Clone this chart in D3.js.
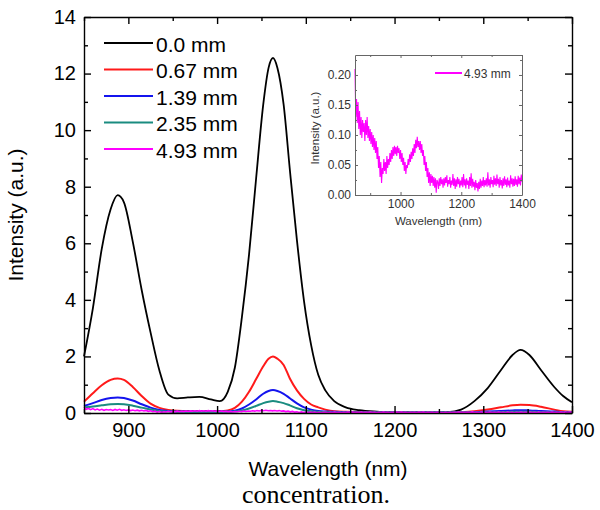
<!DOCTYPE html>
<html>
<head>
<meta charset="utf-8">
<script src="https://cdn.jsdelivr.net/npm/d3@7"></script>
<style>
  body { margin: 0; background: #fff; }
  svg { display: block; }
  .axis path, .axis line { stroke: #000; stroke-width: 1.4; }
  .axis text { font-family: "Liberation Sans", Arial, sans-serif; font-size: 20px; fill: #000; }
  .inset-axis path, .inset-axis line { stroke: #666; stroke-width: 1; }
  .inset-axis text { font-family: "Liberation Sans", Arial, sans-serif; font-size: 12px; fill: #333; }
</style>
</head>
<body>
<svg id="chart"></svg>
<script>
// wavelength grid (nm) for the smooth spectra
const wavelengths = [850, 860, 870, 880, 888, 895, 905, 915, 925, 935,
  945, 955, 967, 980, 993, 1003, 1012, 1020, 1028, 1036,
  1044, 1052, 1058, 1063, 1068, 1075, 1082, 1090, 1098, 1106,
  1114, 1122, 1132, 1145, 1160, 1180, 1200, 1230, 1260, 1275,
  1290, 1305, 1320, 1333, 1342, 1352, 1365, 1380, 1390, 1400];

const series00 = [2.0, 3.7, 5.8, 7.2, 7.7, 7.45, 6.05, 4.35, 2.85, 1.5,
  0.65, 0.52, 0.55, 0.57, 0.48, 0.42, 0.75, 1.6, 3.4, 5.6,
  8.3, 10.9, 12.2, 12.55, 12.2, 10.9, 8.6, 6.1, 3.95, 2.4,
  1.35, 0.8, 0.42, 0.2, 0.1, 0.05, 0.03, 0.02, 0.03, 0.12,
  0.42, 0.88, 1.52, 2.05, 2.23, 2.05, 1.52, 0.92, 0.6, 0.38];

const series067 = [0.4, 0.7, 0.98, 1.17, 1.22, 1.17, 0.92, 0.6, 0.33, 0.18,
  0.11, 0.08, 0.07, 0.07, 0.07, 0.07, 0.09, 0.18, 0.4, 0.75,
  1.2, 1.65, 1.92, 2.0, 1.92, 1.7, 1.22, 0.8, 0.5, 0.3,
  0.2, 0.12, 0.06, 0.04, 0.03, 0.02, 0.02, 0.02, 0.02, 0.03,
  0.06, 0.12, 0.2, 0.27, 0.29, 0.28, 0.22, 0.12, 0.06, 0.04];

const series139 = [0.25, 0.35, 0.46, 0.53, 0.55, 0.53, 0.44, 0.31, 0.19, 0.11,
  0.07, 0.05, 0.05, 0.05, 0.05, 0.05, 0.05, 0.08, 0.16, 0.3,
  0.48, 0.68, 0.78, 0.81, 0.78, 0.68, 0.52, 0.34, 0.2, 0.12,
  0.07, 0.05, 0.04, 0.03, 0.02, 0.02, 0.02, 0.02, 0.02, 0.02,
  0.03, 0.05, 0.07, 0.09, 0.1, 0.09, 0.07, 0.05, 0.03, 0.03];

const series235 = [0.2, 0.23, 0.27, 0.31, 0.32, 0.31, 0.26, 0.19, 0.12, 0.07,
  0.05, 0.04, 0.04, 0.04, 0.04, 0.04, 0.04, 0.05, 0.09, 0.16,
  0.25, 0.35, 0.4, 0.42, 0.4, 0.35, 0.27, 0.17, 0.1, 0.06,
  0.04, 0.03, 0.02, 0.02, 0.02, 0.02, 0.02, 0.02, 0.02, 0.02,
  0.02, 0.02, 0.03, 0.04, 0.04, 0.04, 0.03, 0.02, 0.02, 0.02];

// 4.93 mm spectrum, sampled every 2.5 nm from 850 nm (noisy)
const noisyStart = 850, noisyStep = 2.5;
const series493 = [
  0.21, 0.13, 0.16, 0.12, 0.155,
  0.11, 0.14, 0.10, 0.13, 0.095, 0.125, 0.105, 0.12,
  0.09, 0.125, 0.10, 0.13, 0.095, 0.115, 0.09, 0.11,
  0.085, 0.105, 0.08, 0.10, 0.075, 0.095, 0.07, 0.09,
  0.06, 0.08, 0.045, 0.065, 0.03, 0.055, 0.02, 0.045,
  0.035, 0.06, 0.04, 0.055, 0.035, 0.065, 0.045, 0.06,
  0.05, 0.07, 0.055, 0.075, 0.06, 0.08, 0.065, 0.082,
  0.068, 0.08, 0.065, 0.082, 0.07, 0.078, 0.06, 0.075,
  0.055, 0.07, 0.05, 0.062, 0.04, 0.055, 0.035, 0.05,
  0.045, 0.06, 0.05, 0.068, 0.055, 0.072, 0.06, 0.078,
  0.065, 0.085, 0.07, 0.092, 0.078, 0.097, 0.08, 0.09,
  0.075, 0.09, 0.07, 0.085, 0.065, 0.075, 0.05, 0.065,
  0.04, 0.055, 0.03, 0.045, 0.02, 0.038, 0.015, 0.035,
  0.02, 0.032, 0.015, 0.03, 0.012, 0.028, 0.004, 0.025,
  0.022, 0.01, 0.028, 0.015, 0.03, 0.018, 0.026, 0.012,
  0.028, 0.016, 0.03, 0.02, 0.033, 0.014, 0.025, 0.018,
  0.03, 0.012, 0.024, 0.017, 0.035, 0.015, 0.028, 0.01,
  0.026, 0.014, 0.03, 0.018, 0.027, 0.012, 0.024, 0.016,
  0.03, 0.013, 0.035, 0.016, 0.026, 0.011, 0.028, 0.017,
  0.024, 0.01, 0.03, 0.015, 0.036, 0.012, 0.027, 0.014,
  0.022, 0.008, 0.025, 0.012, 0.02, 0.006, 0.022, 0.01,
  0.027, 0.012, 0.024, 0.015, 0.03, 0.013, 0.025, 0.016,
  0.028, 0.014, 0.038, 0.016, 0.026, 0.012, 0.03, 0.018,
  0.025, 0.013, 0.032, 0.017, 0.028, 0.015, 0.034, 0.018,
  0.027, 0.012, 0.03, 0.016, 0.025, 0.011, 0.028, 0.015,
  0.031, 0.017, 0.026, 0.013, 0.029, 0.016, 0.024, 0.012,
  0.033, 0.018, 0.028, 0.014, 0.027, 0.015, 0.031, 0.017,
  0.026, 0.014, 0.032, 0.018, 0.029, 0.016, 0.034, 0.022];

const seriesLabels = ["0.0 mm", "0.67 mm", "1.39 mm", "2.35 mm", "4.93 mm"];
const seriesColors = ["#000000", "#ff1a1a", "#1414ee", "#1a8c80", "#ff00ff"];
const xTickValues = [900, 1000, 1100, 1200, 1300, 1400];
const yTickValues = [0, 2, 4, 6, 8, 10, 12, 14];
const insetXTicks = [1000, 1200, 1400];
const insetYTicks = [0, 0.05, 0.10, 0.15, 0.20];

const W = 600, H = 510;
const plot = {left: 84, right: 572, top: 17, bottom: 413};
const inset = {left: 355, right: 522, top: 55, bottom: 195};

const svg = d3.select("#chart").attr("width", W).attr("height", H);

const x = d3.scaleLinear().domain([850, 1400]).range([plot.left, plot.right]);
const y = d3.scaleLinear().domain([0, 14]).range([plot.bottom, plot.top]);

const smooth = [series00, series067, series139, series235].map((vals, i) => ({
  label: seriesLabels[i], color: seriesColors[i],
  points: vals.map((v, j) => [wavelengths[j], v])
}));
const noisyPoints = series493.map((v, j) => [noisyStart + j * noisyStep, v]);

// main curves
const smoothLine = d3.line().x(d => x(d[0])).y(d => y(d[1])).curve(d3.curveMonotoneX);
svg.append("g").selectAll("path")
  .data(smooth)
  .join("path")
  .attr("fill", "none")
  .attr("stroke", d => d.color)
  .attr("stroke-width", (d, i) => i === 0 ? 1.8 : 2)
  .attr("d", d => smoothLine(d.points));

svg.append("path")
  .datum(noisyPoints)
  .attr("fill", "none")
  .attr("stroke", seriesColors[4])
  .attr("stroke-width", 1.6)
  .attr("d", d3.line().x(d => x(d[0])).y(d => y(d[1])));

// axes, ticks pointing inward on all four sides
const minorX = d3.range(850, 1401, 50).filter(v => !xTickValues.includes(v));
const minorY = d3.range(1, 14, 2);

function addAxis(axisFn, scale, ticks, minor, transform, labels, pad) {
  const g = svg.append("g").attr("class", "axis").attr("transform", transform);
  g.call(axisFn(scale).tickValues(ticks).tickSizeInner(-7).tickSizeOuter(0)
    .tickPadding(pad).tickFormat(labels ? d3.format("d") : ""));
  g.append("g").call(axisFn(scale).tickValues(minor).tickSizeInner(-4).tickSizeOuter(0).tickFormat(""))
    .select(".domain").remove();
  return g;
}
addAxis(d3.axisBottom, x, xTickValues, minorX, `translate(0,${plot.bottom})`, true, 10);
addAxis(d3.axisTop, x, xTickValues, minorX, `translate(0,${plot.top})`, false, 0);
addAxis(d3.axisLeft, y, yTickValues, minorY, `translate(${plot.left},0)`, true, 8);
addAxis(d3.axisRight, y, yTickValues, minorY, `translate(${plot.right},0)`, false, 0);

// axis titles
svg.append("text")
  .attr("x", (plot.left + plot.right) / 2).attr("y", 476)
  .attr("text-anchor", "middle")
  .style("font-family", "'Liberation Sans', Arial, sans-serif").style("font-size", "21px")
  .text("Wavelength (nm)");

svg.append("text")
  .attr("transform", `translate(23,${(plot.top + plot.bottom) / 2}) rotate(-90)`)
  .attr("text-anchor", "middle")
  .style("font-family", "'Liberation Sans', Arial, sans-serif").style("font-size", "21px")
  .text("Intensity (a.u.)");

svg.append("text")
  .attr("x", 316).attr("y", 503)
  .attr("text-anchor", "middle")
  .style("font-family", "'Liberation Serif', 'Times New Roman', serif").style("font-size", "26px")
  .text("concentration.");

// legend
const legend = svg.append("g").attr("transform", "translate(104,43)");
const rows = legend.selectAll("g").data(seriesLabels).join("g")
  .attr("transform", (d, i) => `translate(0,${i * 26.5})`);
rows.append("line").attr("x1", 0).attr("x2", 49)
  .attr("stroke", (d, i) => seriesColors[i]).attr("stroke-width", 2);
rows.append("text").attr("x", 52).attr("y", 8.5)
  .style("font-family", "'Liberation Sans', Arial, sans-serif").style("font-size", "21px")
  .text(d => d);

// inset
const ix = d3.scaleLinear().domain([850, 1400]).range([inset.left, inset.right]);
const iy = d3.scaleLinear().domain([0, 0.2333]).range([inset.bottom, inset.top]);

svg.append("rect")
  .attr("x", inset.left).attr("y", inset.top)
  .attr("width", inset.right - inset.left).attr("height", inset.bottom - inset.top)
  .attr("fill", "#fff");

svg.append("path")
  .datum(noisyPoints)
  .attr("fill", "none")
  .attr("stroke", seriesColors[4])
  .attr("stroke-width", 1.1)
  .attr("d", d3.line().x(d => ix(d[0])).y(d => iy(d[1])));

function addInsetAxis(axisFn, scale, ticks, minor, transform, fmt, pad) {
  const g = svg.append("g").attr("class", "inset-axis").attr("transform", transform);
  g.call(axisFn(scale).tickValues(ticks).tickSizeInner(-3).tickSizeOuter(0)
    .tickPadding(pad).tickFormat(fmt || ""));
  g.append("g").call(axisFn(scale).tickValues(minor).tickSizeInner(-2).tickSizeOuter(0).tickFormat(""))
    .select(".domain").remove();
}
const insetMinorX = [900, 1100, 1300];
const insetMinorY = [0.025, 0.075, 0.125, 0.175, 0.225];
addInsetAxis(d3.axisBottom, ix, insetXTicks, insetMinorX, `translate(0,${inset.bottom})`, d3.format("d"), 4);
addInsetAxis(d3.axisTop, ix, insetXTicks, insetMinorX, `translate(0,${inset.top})`, null, 0);
addInsetAxis(d3.axisLeft, iy, insetYTicks, insetMinorY, `translate(${inset.left},0)`, d3.format(".2f"), 4);
addInsetAxis(d3.axisRight, iy, insetYTicks, insetMinorY, `translate(${inset.right},0)`, null, 0);

svg.append("text")
  .attr("x", (inset.left + inset.right) / 2).attr("y", 225)
  .attr("text-anchor", "middle")
  .style("font-family", "'Liberation Sans', Arial, sans-serif").style("font-size", "11.5px")
  .style("fill", "#333")
  .text("Wavelength (nm)");

svg.append("text")
  .attr("transform", `translate(319,${(inset.top + inset.bottom) / 2 + 3}) rotate(-90)`)
  .attr("text-anchor", "middle")
  .style("font-family", "'Liberation Sans', Arial, sans-serif").style("font-size", "11.5px")
  .style("fill", "#333")
  .text("Intensity (a.u.)");

const insetLegend = svg.append("g").attr("transform", "translate(435,73)");
insetLegend.append("line").attr("x1", 0).attr("x2", 27)
  .attr("stroke", seriesColors[4]).attr("stroke-width", 2);
insetLegend.append("text").attr("x", 29).attr("y", 4.5)
  .style("font-family", "'Liberation Sans', Arial, sans-serif").style("font-size", "12px")
  .style("fill", "#333")
  .text(seriesLabels[4]);
</script>
</body>
</html>
